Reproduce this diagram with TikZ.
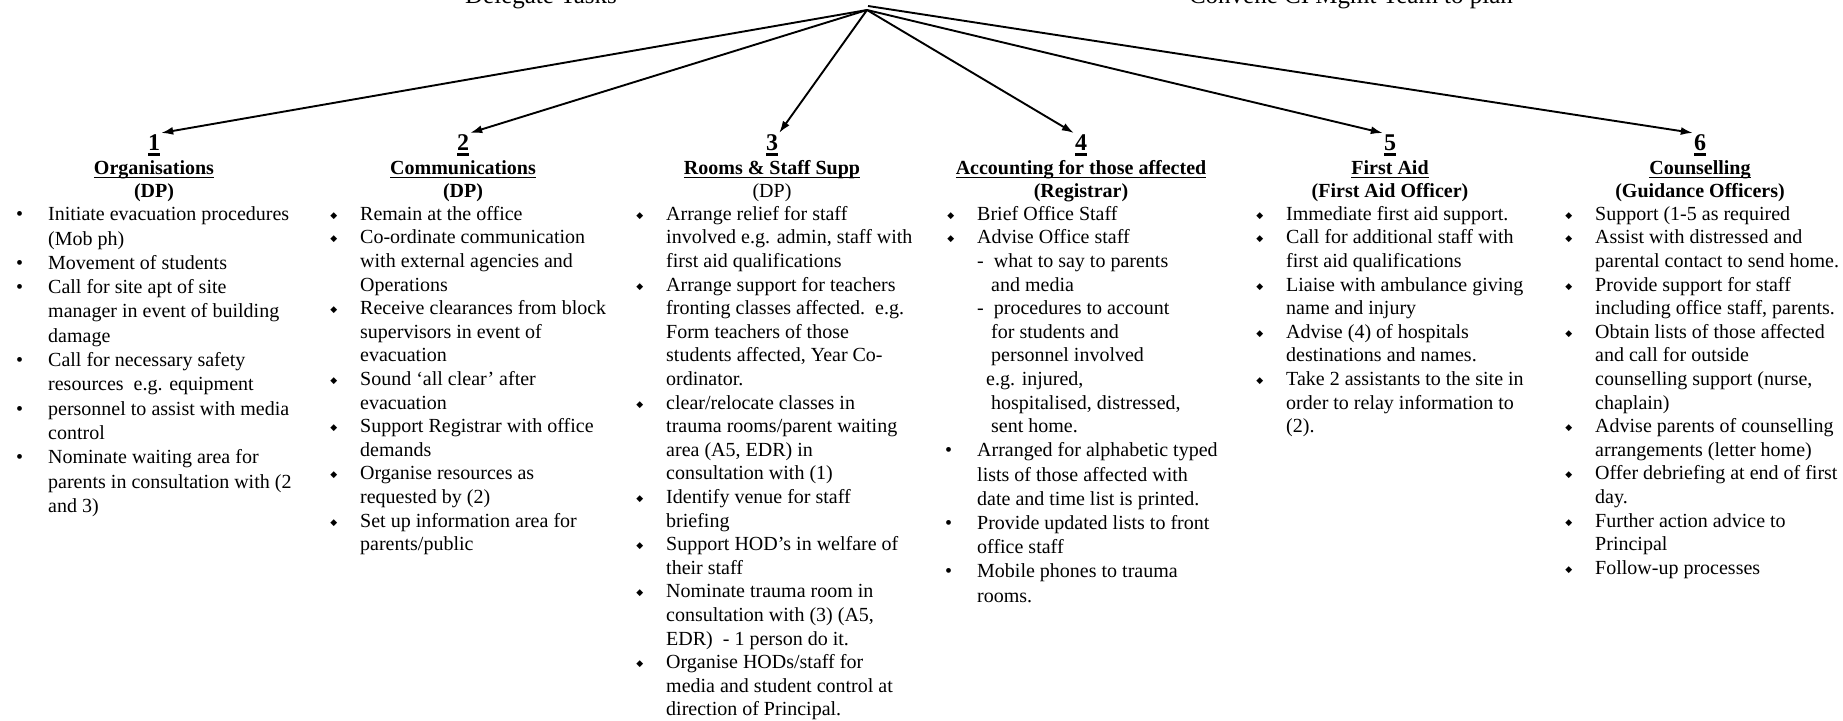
\documentclass[tikz,border=0pt]{standalone}
\usepackage{fontspec}
\setmainfont{Liberation Serif}
\newfontfamily\symfont{DejaVu Sans}
\usepackage{tikz}
\usetikzlibrary{arrows.meta,positioning}

% underline at a fixed depth
\newsavebox{\ulbox}
\newcommand{\uln}[1]{\sbox{\ulbox}{#1}\rlap{\usebox{\ulbox}}\rule[-4pt]{\wd\ulbox}{1.5pt}}
\newcommand{\unum}[1]{\sbox{\ulbox}{#1}\rlap{\usebox{\ulbox}}\rule[-5.5pt]{\wd\ulbox}{2.2pt}}
% round and diamond bullets hung left of the text
\newcommand{\rb}{\llap{\textbullet\hspace{25pt}}}
\newcommand{\db}{\llap{\raisebox{2pt}{\symfont\fontsize{9}{9}\selectfont ◆}\hspace{23pt}}}

\begin{document}
\begin{tikzpicture}[x=1pt, y=-1pt]
\tikzstyle{every node}=[inner sep=1pt, font=\fontsize{20}{23.6}\selectfont]
\tikzstyle{num}=[anchor=base, font=\fontsize{24}{28}\selectfont\bfseries]
\tikzstyle{head}=[anchor=base, font=\fontsize{20}{23.6}\selectfont\bfseries]
\tikzstyle{top}=[anchor=base, font=\fontsize{25}{30}\selectfont]
\tikzstyle{tasks}=[anchor=north west, align=left, inner sep=0pt]
\tikzstyle{link}=[line width=1.9pt, -{Latex[length=12pt,width=8pt]}]

\useasboundingbox (0,0) rectangle (1843,720);

\node[top] (deleg) at (541,4) {Delegate Tasks};
\node[top] (conv) at (1351,4) {Convene CI Mgmt Team to plan};
\coordinate (hub) at (867,10);
\coordinate (hubtop) at (868,6);

% numbers
\node[num] (n1) at (154,150) {\unum{1}};
\node[num] (n2) at (463,150) {\unum{2}};
\node[num] (n3) at (772,150) {\unum{3}};
\node[num] (n4) at (1081,150) {\unum{4}};
\node[num] (n5) at (1390,150) {\unum{5}};
\node[num] (n6) at (1700,150) {\unum{6}};

% headings
\node[head] (t1) at (154,174) {\uln{Organisations}};
\node[head] (s1) at (154,197) {(DP)};
\node[head] (t2) at (463,174) {\uln{Communications}};
\node[head] (s2) at (463,197) {(DP)};
\node[head] (t3) at (772,174) {\uln{Rooms \& Staff Supp}};
\node[head] (s3) at (772,197) {\mdseries (DP)};
\node[head] (t4) at (1081,174) {\uln{Accounting for those affected}};
\node[head] (s4) at (1081,197) {(Registrar)};
\node[head] (t5) at (1390,174) {\uln{First Aid}};
\node[head] (s5) at (1390,197) {(First Aid Officer)};
\node[head] (t6) at (1700,174) {\uln{Counselling}};
\node[head] (s6) at (1700,197) {(Guidance Officers)};

% task lists (first baseline at y=220)
\node[tasks, font=\fontsize{20}{24.3}\selectfont] (org) at (48,203.5) {\strut\rb Initiate evacuation procedures\\
  (Mob ph)\\
  \rb Movement of students\\
  \rb Call for site apt of site\\
  manager in event of building\\
  damage\\
  \rb Call for necessary safety\\
  resources\ \ e.g. equipment\\
  \rb personnel to assist with media\\
  control\\
  \rb Nominate waiting area for\\
  parents in consultation with (2\\
  and 3)};
\node[tasks] (comm) at (360,203.5) {\strut\db Remain at the office\\
  \db Co-ordinate communication\\
  with external agencies and\\
  Operations\\
  \db Receive clearances from block\\
  supervisors in event of\\
  evacuation\\
  \db Sound ‘all clear’ after\\
  evacuation\\
  \db Support Registrar with office\\
  demands\\
  \db Organise resources as\\
  requested by (2)\\
  \db Set up information area for\\
  parents/public};
\node[tasks] (rooms) at (666,203.5) {\strut\db Arrange relief for staff\\
  involved e.g. admin, staff with\\
  first aid qualifications\\
  \db Arrange support for teachers\\
  fronting classes affected.\ \ e.g.\\
  Form teachers of those\\
  students affected, Year Co-\\
  ordinator.\\
  \db clear/relocate classes in\\
  trauma rooms/parent waiting\\
  area (A5, EDR) in\\
  consultation with (1)\\
  \db Identify venue for staff\\
  briefing\\
  \db Support HOD’s in welfare of\\
  their staff\\
  \db Nominate trauma room in\\
  consultation with (3) (A5,\\
  EDR)\ \ - 1 person do it.\\
  \db Organise HODs/staff for\\
  media and student control at\\
  direction of Principal.};
\node[tasks] (acct) at (977,203.5) {\strut\db Brief Office Staff\\
  \db Advise Office staff\\
  -\ \ what to say to parents\\
  \hspace*{14pt}and media\\
  -\ \ procedures to account\\
  \hspace*{14pt}for students and\\
  \hspace*{14pt}personnel involved\\
  \hspace*{9pt}e.g. injured,\\
  \hspace*{14pt}hospitalised, distressed,\\
  \hspace*{14pt}sent home.\\[0.6pt]
  \rb Arranged for alphabetic typed\\[0.6pt]
  lists of those affected with\\[0.6pt]
  date and time list is printed.\\[0.6pt]
  \rb Provide updated lists to front\\[0.6pt]
  office staff\\[0.6pt]
  \rb Mobile phones to trauma\\[0.6pt]
  rooms.};
\node[tasks] (aid) at (1286,203.5) {\strut\db Immediate first aid support.\\
  \db Call for additional staff with\\
  first aid qualifications\\
  \db Liaise with ambulance giving\\
  name and injury\\
  \db Advise (4) of hospitals\\
  destinations and names.\\
  \db Take 2 assistants to the site in\\
  order to relay information to\\
  (2).};
\node[tasks] (couns) at (1595,203.5) {\strut\db Support (1-5 as required\\
  \db Assist with distressed and\\
  parental contact to send home.\\
  \db Provide support for staff\\
  including office staff, parents.\\
  \db Obtain lists of those affected\\
  and call for outside\\
  counselling support (nurse,\\
  chaplain)\\
  \db Advise parents of counselling\\
  arrangements (letter home)\\
  \db Offer debriefing at end of first\\
  day.\\
  \db Further action advice to\\
  Principal\\
  \db Follow-up processes};

\draw[link] (hub) -- (n1.north east);
\draw[link] (hub) -- (n2.north east);
\draw[link] (hub) -- (n3.north east);
\draw[link] (hub) -- (n4.north west);
\draw[link] (hub) -- (n5.north west);
\draw[link] (hubtop) -- (n6.north west);
\end{tikzpicture}
\end{document}
